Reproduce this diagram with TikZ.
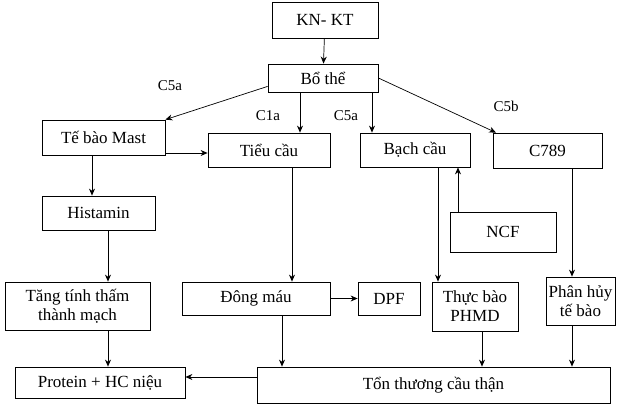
\documentclass[tikz,border=0pt]{standalone}
\usepackage{fontspec}
\setmainfont{Liberation Serif}
\usetikzlibrary{arrows.meta}
\begin{document}
\begin{tikzpicture}[x=1pt,y=-1pt,
  box/.style={draw,line width=0.8pt,inner sep=0pt,align=center,font=\fontsize{17}{19}\selectfont},
  arr/.style={-{Stealth[length=7pt,width=6pt]},line width=0.7pt},
  lab/.style={font=\fontsize{15}{17}\selectfont}]
\useasboundingbox (0,0) rectangle (637,413);
\node[box,minimum width=106,minimum height=36] (kn) at (325,20) {KN- KT};
\node[box,minimum width=110,minimum height=28] (bo) at (323,78) {Bổ thể};
\node[box,minimum width=123,minimum height=35] (mast) at (103.5,137.5) {Tế bào Mast};
\node[box,minimum width=122,minimum height=34] (tieu) at (269,150) {Tiểu cầu};
\node[box,minimum width=110,minimum height=34] (bach) at (415,150) {Bạch cầu};
\node[box,minimum width=109,minimum height=35] (c789) at (547.5,150.5) {C789};
\node[box,minimum width=113,minimum height=34] (hist) at (98.5,213) {Histamin};
\node[box,minimum width=106,minimum height=40] (ncf) at (503,232) {NCF};
\node[box,minimum width=145,minimum height=48] (tang) at (77.5,306) {Tăng tính thấm\\thành mạch};
\node[box,minimum width=148,minimum height=33] (dong) at (256,298.5) {Đông máu};
\node[box,minimum width=62,minimum height=33] (dpf) at (389,298.5) {DPF};
\node[box,minimum width=86,minimum height=49] (thuc) at (475,306.5) {Thực bào\\PHMD};
\node[box,minimum width=69,minimum height=48] (phan) at (580.5,301) {Phân hủy\\tế bào};
\node[box,minimum width=170,minimum height=31] (prot) at (100,382.5) {Protein + HC niệu};
\node[box,minimum width=353,minimum height=36] (ton) at (433.5,385) {Tổn thương cầu thận};
\node[lab] (l1) at (170,86) {C5a};
\node[lab] (l2) at (268,116) {C1a};
\node[lab] (l3) at (346,116) {C5a};
\node[lab] (l4) at (506,106) {C5b};
\draw[arr] (kn) -- (bo);
\draw[arr] (bo.south west) ++(0,-6) coordinate (b1) (b1) -- (mast.north east);
\draw[arr] (300,0 |- bo.south) -- (300,0 |- tieu.north);
\draw[arr] (372,0 |- bo.south) -- (372,0 |- bach.north);
\draw[arr] (bo.east) -- (496,0 |- c789.north);
\draw[arr] (0,153 -| mast.east) -- (0,153 -| tieu.west);
\draw[arr] (92,0 |- mast.south) -- (92,0 |- hist.north);
\draw[arr] (108,0 |- hist.south) -- (108,0 |- tang.north);
\draw[arr] (292,0 |- tieu.south) -- (292,0 |- dong.north);
\draw[arr] (438,0 |- bach.south) -- (438,0 |- thuc.north);
\draw[arr] (458,0 |- ncf.north) -- (458,0 |- bach.south);
\draw[arr] (572,0 |- c789.south) -- (572,0 |- phan.north);
\draw[arr] (dong.east) -- (dpf.west);
\draw[arr] (108,0 |- tang.south) -- (108,0 |- prot.north);
\draw[arr] (282,0 |- dong.south) -- (282,0 |- ton.north);
\draw[arr] (482,0 |- thuc.south) -- (482,0 |- ton.north);
\draw[arr] (572,0 |- phan.south) -- (572,0 |- ton.north);
\draw[arr] (0,377 -| ton.west) -- (0,377 -| prot.east);
\end{tikzpicture}
\end{document}
